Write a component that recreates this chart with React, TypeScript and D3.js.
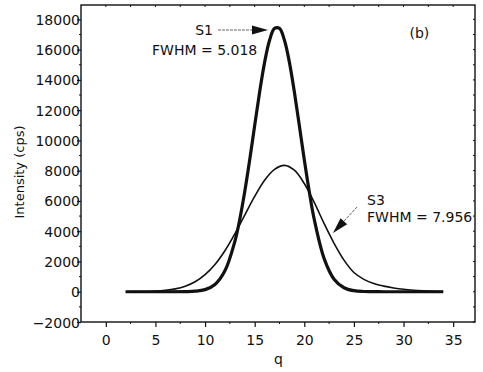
import * as d3 from "d3";
import React, { useEffect, useRef } from "react";

// scattering angle q
const qValues = [
  2, 3, 4, 5, 6, 7, 8, 9, 10, 11, 12, 13, 14, 15, 16, 17, 18, 19, 20, 21, 22,
  23, 24, 25, 26, 27, 28, 29, 30, 31, 32, 33, 34,
];
// S3 (broad, FWHM = 7.956)
const s3Values = [
  3, 8, 18, 40, 93, 190, 367, 660, 1130, 1800, 2710, 3820, 5070, 6300, 7370,
  8090, 8350, 8030, 7150, 5900, 4500, 3200, 2090, 1270, 820, 540, 370, 250,
  160, 100, 60, 30, 15,
];

// S1 is sampled finer around its narrow peak
const s1Q = [
  2, 4, 6, 8, 9, 10, 11, 12, 13, 13.5, 14, 14.5, 15, 15.5, 16, 16.5, 17, 17.5,
  18, 18.5, 19, 19.5, 20, 20.5, 21, 22, 23, 24, 25, 26, 28, 30, 32, 34,
];
// S1 (narrow, FWHM = 5.018)
const s1Values = [
  0, 0, 0, 10, 35, 140, 480, 1380, 3320, 4790, 6620, 8720, 10980, 13200, 15160,
  16620, 17400, 17400, 16620, 15160, 13200, 10980, 8720, 6620, 4790, 2190, 830,
  265, 70, 15, 0, 0, 0, 0,
];

const yTicks = [-2000, 0, 2000, 4000, 6000, 8000, 10000, 12000, 14000, 16000, 18000];
const xTicks = [0, 5, 10, 15, 20, 25, 30, 35];

const W = 483;
const H = 372;
const FONT = "DejaVu Sans, sans-serif";

const App: React.FC = () => {
  const ref = useRef<SVGSVGElement | null>(null);

  useEffect(() => {
    const svg = d3.select(ref.current).attr("width", W).attr("height", H).html("");

    const left = 81, right = 475, top = 5, bottom = 322;
    const x = d3.scaleLinear().domain([-2.5, 37.2]).range([left, right]);
    const y = d3.scaleLinear().domain([-2000, 18950]).range([bottom, top]);

    svg.append("rect").attr("width", W).attr("height", H).attr("fill", "white");

    // frame
    svg
      .append("rect")
      .attr("x", left)
      .attr("y", top)
      .attr("width", right - left)
      .attr("height", bottom - top)
      .attr("fill", "none")
      .attr("stroke", "#111")
      .attr("stroke-width", 1.4);

    // y axis
    const yMinor = d3.range(-1000, 19000, 2000);
    svg
      .append("g")
      .selectAll("line.ymin")
      .data(yMinor)
      .join("line")
      .attr("x1", left - 2)
      .attr("x2", left)
      .attr("y1", (d) => y(d))
      .attr("y2", (d) => y(d))
      .attr("stroke", "#111");
    const yAxis = svg
      .append("g")
      .attr("transform", `translate(${left},0)`)
      .call(d3.axisLeft(y).tickValues(yTicks).tickSize(4).tickPadding(-3).tickFormat((d) => `${d}`.replace("-", "−")));
    yAxis.select(".domain").remove();
    yAxis.selectAll("line").attr("stroke", "#111").attr("stroke-width", 1.2);
    yAxis
      .selectAll("text")
      .attr("font-family", FONT)
      .attr("font-size", 14)
      .attr("fill", "#111")
      .attr("dy", "0.36em");

    // right side small ticks
    svg
      .append("g")
      .selectAll("line")
      .data(d3.range(-2000, 19000, 1000))
      .join("line")
      .attr("x1", right - 2)
      .attr("x2", right)
      .attr("y1", (d) => y(d))
      .attr("y2", (d) => y(d))
      .attr("stroke", "#111");

    // x axis
    const xMinor = d3.range(2.5, 37, 5);
    svg
      .append("g")
      .selectAll("line")
      .data(xMinor)
      .join("line")
      .attr("x1", (d) => x(d))
      .attr("x2", (d) => x(d))
      .attr("y1", bottom)
      .attr("y2", bottom + 2)
      .attr("stroke", "#111");
    svg
      .append("g")
      .selectAll("line")
      .data(d3.range(0, 37, 2.5))
      .join("line")
      .attr("x1", (d) => x(d))
      .attr("x2", (d) => x(d))
      .attr("y1", top)
      .attr("y2", top + 2)
      .attr("stroke", "#111");
    const xAxis = svg
      .append("g")
      .attr("transform", `translate(0,${bottom})`)
      .call(d3.axisBottom(x).tickValues(xTicks).tickSize(5).tickPadding(8));
    xAxis.select(".domain").remove();
    xAxis.selectAll("line").attr("stroke", "#111").attr("stroke-width", 1.2);
    xAxis
      .selectAll("text")
      .attr("font-family", FONT)
      .attr("font-size", 14)
      .attr("fill", "#111");

    // axis titles
    svg
      .append("text")
      .attr("transform", `translate(24,172) rotate(-90)`)
      .attr("text-anchor", "middle")
      .attr("font-family", FONT)
      .attr("font-size", 13)
      .attr("fill", "#111")
      .text("Intensity (cps)");
    svg
      .append("text")
      .attr("x", x(17.4))
      .attr("y", 364)
      .attr("text-anchor", "middle")
      .attr("font-family", FONT)
      .attr("font-size", 14)
      .attr("fill", "#111")
      .text("q");

    // curves
    const s3Line = d3
      .line<number>()
      .x((_d, i) => x(qValues[i]))
      .y((d) => y(d))
      .curve(d3.curveCatmullRom);
    const s1Line = d3
      .line<number>()
      .x((_d, i) => x(s1Q[i]))
      .y((d) => y(d))
      .curve(d3.curveCatmullRom);

    svg
      .append("path")
      .datum(s3Values)
      .attr("fill", "none")
      .attr("stroke", "#111")
      .attr("stroke-width", 1.6)
      .attr("d", s3Line);
    svg
      .append("path")
      .datum(s1Values)
      .attr("fill", "none")
      .attr("stroke", "#111")
      .attr("stroke-width", 3.2)
      .attr("stroke-linejoin", "round")
      .attr("d", s1Line);

    // annotations
    const label = (tx: number, ty: number, t: string, anchor = "start") =>
      svg
        .append("text")
        .attr("x", tx)
        .attr("y", ty)
        .attr("text-anchor", anchor)
        .attr("font-family", FONT)
        .attr("font-size", 14)
        .attr("fill", "#111")
        .text(t);

    label(x(31.6), 38, "(b)", "middle");
    label(213, 35, "S1", "end");
    label(152, 55, "FWHM = 5.018");
    label(367, 205, "S3");
    label(367, 222, "FWHM = 7.956");

    const arrow = (x1: number, y1: number, x2: number, y2: number) => {
      const ang = Math.atan2(y2 - y1, x2 - x1);
      const len = 16, half = 4.5;
      const bx = x2 - len * Math.cos(ang), by = y2 - len * Math.sin(ang);
      svg
        .append("line")
        .attr("x1", x1)
        .attr("y1", y1)
        .attr("x2", bx)
        .attr("y2", by)
        .attr("stroke", "#555")
        .attr("stroke-width", 0.9)
        .attr("stroke-dasharray", "3,1");
      svg
        .append("path")
        .attr(
          "d",
          `M${x2},${y2}L${bx + half * Math.sin(ang)},${by - half * Math.cos(ang)}L${bx - half * Math.sin(ang)},${by + half * Math.cos(ang)}Z`
        )
        .attr("fill", "#111");
    };
    arrow(218, 30, 268, 30);
    arrow(357, 207, 333, 233);
  }, []);

  return (
    <svg ref={ref} style={{ position: "absolute", left: 0, top: 0 }}></svg>
  );
};

export default App;
